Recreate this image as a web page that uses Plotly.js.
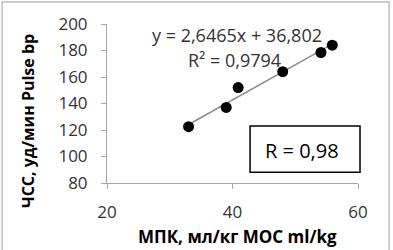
<!DOCTYPE html>
<html>
<head>
<meta charset="utf-8">
<script src="https://cdn.plot.ly/plotly-3.0.1.min.js"></script>
<style>html,body{margin:0;padding:0;background:#fff;}#chart{width:393px;height:250px;}</style>
</head>
<body>
<div id="chart"></div>
<script>
// Data
const vo2max = [33.0, 39.0, 40.9, 48.0, 54.1, 55.9];   // МПК, мл/кг
const heartRate = [122.5, 137.0, 152.0, 164.0, 178.5, 184.0]; // ЧСС, уд/мин
const trendSlope = 2.6465;
const trendIntercept = 36.802;
const rSquared = "0,9794";
const rValue = "0,98";
const xTicks = [20, 40, 60];
const yTicks = [80, 100, 120, 140, 160, 180, 200];
const xTitle = "МПК, мл/кг МОС ml/kg";
const yTitle = "ЧСС, уд/мин Pulse bp";

const xMin = Math.min(...vo2max), xMax = Math.max(...vo2max);
const trendX = [xMin, xMax];
const trendY = trendX.map(v => trendSlope * v + trendIntercept);

const FONT = "Open Sans, Lato, sans-serif";

const traces = [
  {x: trendX, y: trendY, type: 'scatter', mode: 'lines',
   line: {color: '#8c8c8c', width: 1.5}, hoverinfo: 'skip', showlegend: false},
  {x: vo2max, y: heartRate, type: 'scatter', mode: 'markers',
   marker: {color: '#000', size: 11}, showlegend: false}
];

const ann = (text, x, y, font, extra) => Object.assign({
  text: text, xref: 'paper', yref: 'paper', x: x, y: y, showarrow: false,
  xanchor: 'center', yanchor: 'middle', font: font
}, extra || {});

const layout = {
  width: 393, height: 250,
  margin: {l: 107, r: 35, t: 24, b: 67},
  paper_bgcolor: '#fff', plot_bgcolor: '#fff',
  font: {family: FONT, color: '#333', size: 17},
  showlegend: false,
  xaxis: {
    range: [20, 60], tickvals: xTicks, ticktext: xTicks.map(String),
    showgrid: false, zeroline: false, showline: true, linecolor: '#a6a6a6', linewidth: 1,
    ticks: 'outside', ticklen: 5, tickcolor: '#a6a6a6',
    tickfont: {family: FONT, size: 17, color: '#333'}, ticklabelstandoff: 9,
    fixedrange: true
  },
  yaxis: {
    range: [80, 200], tickvals: yTicks, ticktext: yTicks.map(String),
    showgrid: false, zeroline: false, showline: true, linecolor: '#a6a6a6', linewidth: 1,
    ticks: 'outside', ticklen: 5, tickcolor: '#a6a6a6',
    tickfont: {family: FONT, size: 17, color: '#333'}, ticklabelstandoff: 10,
    fixedrange: true
  },
  shapes: [
    {type: 'rect', xref: 'paper', yref: 'paper', x0: 0.570, x1: 1.008, y0: 0.068, y1: 0.358,
     line: {color: '#000', width: 1.5}, fillcolor: 'rgba(0,0,0,0)'},
    {type: 'rect', xref: 'paper', yref: 'paper', x0: -0.418, x1: 1.124, y0: -0.46, y1: 1.138,
     line: {color: '#bfbfbf', width: 1.5}, fillcolor: 'rgba(0,0,0,0)'}
  ],
  annotations: [
    ann('y = ' + String(trendSlope).replace('.', ',') + 'x + ' + String(trendIntercept).replace('.', ','),
        0.518, 0.931, {family: FONT, size: 18, color: '#333'}),
    ann('R² = ' + rSquared, 0.506, 0.775, {family: FONT, size: 18, color: '#333'}),
    ann('R = ' + rValue, 0.777, 0.2075, {family: FONT, size: 20, color: '#000'}),
    ann('<b>' + xTitle + '</b>', 0.52, -0.335, {family: FONT, size: 17, color: '#000'}),
    ann('<b>' + yTitle + '</b>', -0.5, 0.39, {family: FONT, size: 16, color: '#000'}, {textangle: -90})
  ]
};
layout.annotations[4].x = (28 - 107) / 251;

Plotly.newPlot('chart', traces, layout, {staticPlot: true, displayModeBar: false});
</script>
</body>
</html>
